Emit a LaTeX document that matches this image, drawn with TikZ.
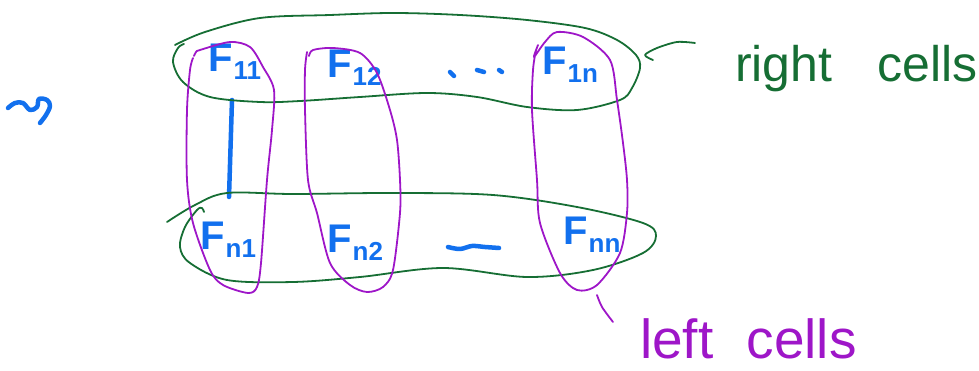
\documentclass[tikz,border=0pt]{standalone}
\usepackage{fontspec}
\setmainfont{Liberation Sans}
\definecolor{inkblue}{RGB}{18,112,238}
\definecolor{inkgreen}{RGB}{22,110,52}
\definecolor{inkpurple}{RGB}{158,22,200}
\newcommand{\Fsub}[1]{F\kern1pt\raisebox{-0.2em}{\fontsize{26}{26}\selectfont #1}}
\tikzset{
  lbl/.style={inner sep=0pt, anchor=base west, font=\fontsize{40}{40}\selectfont\bfseries, text=inkblue},
  greentext/.style={inner sep=0pt, anchor=base west, font=\fontsize{50}{50}\selectfont, text=inkgreen},
  purpletext/.style={inner sep=0pt, anchor=base west, font=\fontsize{55}{55}\selectfont, text=inkpurple},
  greenloop/.style={draw=inkgreen, line width=1.8pt, line cap=round, line join=round},
  purpleloop/.style={draw=inkpurple, line width=1.8pt, line cap=round, line join=round},
  bluestroke/.style={draw=inkblue, line width=4.5pt, line cap=round, line join=round},
}
\begin{document}
\begin{tikzpicture}[x=1pt,y=-1pt]
\useasboundingbox (0,0) rectangle (979,371);

% squiggle arrow
\draw[bluestroke] plot[smooth, tension=0.6] coordinates {(8,108) (15,103) (23,103) (30,110) (37,107) (39,99) (47,100) (50,106) (46,115) (40,123)};

% labels top row
\node[lbl] (f11) at (208,72) {\Fsub{11}};
\node[lbl] (f12) at (327,78) {\Fsub{12}};
\node[lbl] (f1n) at (542,75) {\Fsub{1n}};
% labels bottom row
\node[lbl] (fn1) at (200,250) {\Fsub{n1}};
\node[lbl] (fn2) at (327,253) {\Fsub{n2}};
\node[lbl] (fnn) at (563,245) {\Fsub{nn}};

% dots
\coordinate (d1a) at (450,72); \coordinate (d1b) at (454,76);
\coordinate (d2a) at (477,70); \coordinate (d2b) at (484,72);
\coordinate (d3a) at (499,70); \coordinate (d3b) at (502,72);
\draw[bluestroke] (d1a) -- (d1b);
\draw[bluestroke] (d2a) -- (d2b);
\draw[bluestroke] (d3a) -- (d3b);
% dash
\draw[bluestroke] plot[smooth, tension=0.6] coordinates {(448,247) (460,249) (472,246) (485,247) (499,248)};
% vertical line
\coordinate (vtop) at (232,100);
\coordinate (vbot) at (229,197);
\draw[bluestroke] (vtop) -- (vbot);

% green top loop
\draw[greenloop] plot[smooth, tension=0.55] coordinates {(175,45) (205,32) (260,18) (330,15) (393,13) (460,15) (527,20) (585,28) (617,40) (636,55) (640,68) (632,88) (620,100) (577,110) (527,107) (477,97) (427,93) (360,97) (300,101) (260,102) (210,97) (183,82) (173,62) (178,48) (184,44)};
% green pointer
\draw[greenloop] plot[smooth, tension=0.5] coordinates {(695,43) (677,42) (657,48) (645,55) (653,60)};
\node[greentext] (rc) at (735,82) {right\hspace{0.9em}cells};

% green bottom loop
\draw[greenloop] plot[smooth, tension=0.55] coordinates {(167,222) (195,205) (227,193) (293,194) (393,193) (493,195) (577,207) (643,223) (656,236) (643,253) (593,270) (527,277) (443,268) (360,277) (293,282) (227,280) (190,263) (180,247) (185,227) (197,210) (202,208) (204,212)};

% purple column 1
\draw[purpleloop] plot[smooth, tension=0.5] coordinates {(194,56) (196,52) (200,50) (230,42) (250,47) (263,67) (274,90) (272,130) (267,180) (261,263) (257,287) (248,293) (223,285) (210,270) (193,223) (187,180) (187,110) (190,70) (193,58)};
% purple column 2
\draw[purpleloop] plot[smooth, tension=0.5] coordinates {(309,56) (313,50) (333,48) (360,53) (377,73) (390,110) (397,140) (400,180) (400,213) (393,270) (383,287) (367,292) (350,285) (330,263) (317,213) (308,180) (305,110) (305,70) (307,52)};
% purple column 3
\draw[purpleloop] plot[smooth, tension=0.5] coordinates {(538,45) (534,57) (545,42) (557,32) (583,37) (610,60) (617,100) (623,143) (627,180) (627,213) (620,253) (597,285) (577,290) (560,273) (540,223) (537,180) (532,110) (533,70) (536,50)};
% purple pointer
\draw[purpleloop] plot[smooth, tension=0.5] coordinates {(597,295) (602,307) (613,322)};
\node[purpletext] (lc) at (640,358) {left\hspace{0.6em}cells};
\end{tikzpicture}
\end{document}
